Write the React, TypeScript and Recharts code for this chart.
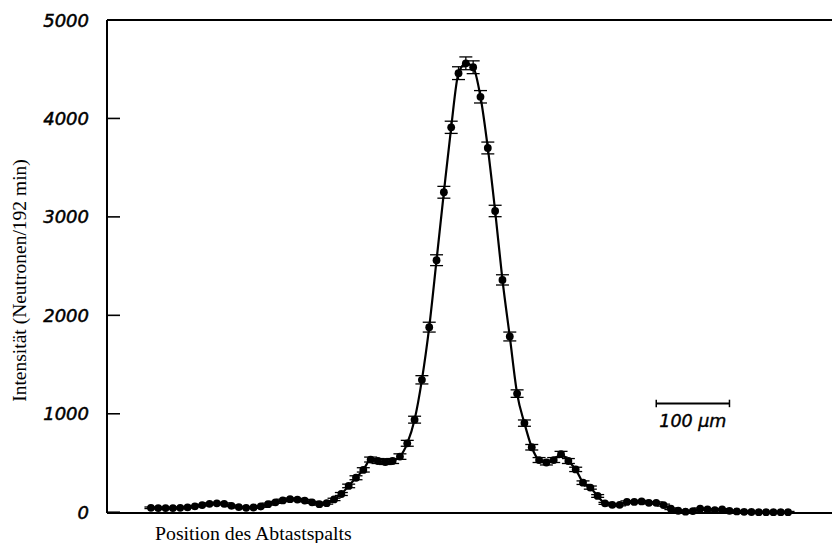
import React from 'react';
import { LineChart, Line, XAxis, YAxis, ReferenceLine, ErrorBar } from 'recharts';

// Scan positions (µm)
const positions = [
  0, 10, 20, 30, 40, 50, 60, 70, 80, 90,
  100, 110, 120, 130, 140, 150, 160, 170, 180, 190,
  200, 210, 220, 230, 240, 250, 260, 270, 280, 290,
  300, 310, 320, 330, 340, 350, 360, 370, 380, 390,
  400, 410, 420, 430, 440, 450, 460, 470, 480, 490,
  500, 510, 520, 530, 540, 550, 560, 570, 580, 590,
  600, 610, 620, 630, 640, 650, 660, 670, 680, 690,
  700, 710, 720, 730, 740, 750, 760, 770, 780, 790,
  800, 810, 820, 830, 840, 850, 860, 870,
];

// Intensity (neutrons / 192 min)
const counts = [
  45, 42, 42, 42, 45, 50, 60, 72, 85, 90,
  85, 65, 52, 45, 48, 58, 82, 100, 120, 132,
  128, 118, 100, 82, 92, 130, 185, 267, 350, 430,
  535, 520, 510, 520, 565, 700, 940, 1345, 1880, 2560,
  3250, 3910, 4460, 4560, 4520, 4220, 3700, 3060, 2360, 1785,
  1205, 905, 660, 530, 505, 530, 590, 520, 435, 300,
  250, 165, 90, 75, 75, 105, 105, 110, 95, 95,
  72, 35, 15, 5, 12, 35, 28, 22, 28, 14,
  8, 4, 2, 0, 0, 0, 0, 0,
];

// Error bar half-lengths
const errors = [
  8, 8, 8, 8, 8, 8, 8, 8, 10, 10,
  10, 8, 8, 8, 8, 8, 10, 10, 12, 12,
  12, 12, 10, 10, 10, 12, 15, 18, 20, 22,
  25, 25, 25, 25, 28, 30, 35, 42, 50, 55,
  60, 62, 65, 65, 65, 63, 60, 58, 52, 45,
  38, 32, 28, 25, 25, 25, 28, 25, 22, 18,
  16, 14, 10, 10, 10, 10, 10, 10, 10, 10,
  10, 8, 8, 8, 8, 8, 8, 8, 8, 8,
  8, 8, 8, 8, 8, 8, 8, 8,
];

const yTicks = [0, 1000, 2000, 3000, 4000, 5000];
const xDomain = [-60, 930];
const yDomain = [0, 5000];
const xLabelText = 'Position des Abtastspalts';
const yLabelText = 'Intensität (Neutronen/192 min)';
const scaleBarStart = 690;
const scaleBarEnd = 790;
const scaleBarLevel = 1105;
const scaleBarCap = 38;
const scaleBarText = '100 µm';

const data = positions.map((pos, i) => ({ pos, n: counts[i], err: errors[i] }));

const YTick = (props: any) => {
  const { x, y, payload } = props;
  return (
    <g>
      <line x1={x + 18} x2={x + 31} y1={y} y2={y} stroke="#000" strokeWidth={1.6} />
      <text
        x={x}
        y={y}
        dy={6.5}
        textAnchor="end"
        fontFamily="DejaVu Sans"
        fontStyle="italic"
        fontSize={18}
        fill="#000"
        stroke="#000"
        strokeWidth={0.5}
      >
        {payload.value}
      </text>
    </g>
  );
};

const YLabel = (props: any) => {
  const vb = props.viewBox || { x: 0, y: 20, width: 107, height: 493 };
  const cx = vb.x + 25.5;
  const cy = vb.y + vb.height / 2 + 14;
  return (
    <text
      x={cx}
      y={cy}
      transform={`rotate(-90 ${cx} ${cy})`}
      textAnchor="middle"
      fontFamily="Liberation Serif"
      fontSize={19.5}
      fill="#000"
    >
      {yLabelText}
    </text>
  );
};

const XLabel = (props: any) => {
  const vb = props.viewBox || { x: 107, y: 513, width: 725, height: 30 };
  return (
    <text
      x={vb.x + 48}
      y={vb.y + 27}
      textAnchor="start"
      fontFamily="Liberation Serif"
      fontSize={19.8}
      fill="#000"
    >
      {xLabelText}
    </text>
  );
};

const ScaleLabel = (props: any) => {
  const vb = props.viewBox || {};
  const x1 = vb.x1 !== undefined ? vb.x1 : vb.x;
  const x2 = vb.x2 !== undefined ? vb.x2 : vb.x + vb.width;
  const y = vb.y1 !== undefined ? vb.y1 : vb.y;
  return (
    <text
      x={(x1 + x2) / 2}
      y={y + 24}
      textAnchor="middle"
      fontFamily="DejaVu Sans"
      fontStyle="italic"
      fontSize={17.5}
      fill="#000"
      stroke="#000"
      strokeWidth={0.4}
    >
      {scaleBarText}
    </text>
  );
};

export default function App() {
  return (
    <div style={{ position: 'absolute', left: 0, top: 0, background: '#fff' }}>
      <LineChart
        width={832}
        height={543}
        data={data}
        margin={{ top: 20, right: 0, bottom: 0, left: 0 }}
      >
        <XAxis
          dataKey="pos"
          type="number"
          domain={xDomain}
          allowDataOverflow
          tick={false}
          tickLine={false}
          axisLine={{ stroke: '#000', strokeWidth: 2 }}
          height={30}
          label={<XLabel />}
        />
        <YAxis
          type="number"
          domain={yDomain}
          ticks={yTicks}
          interval={0}
          width={107}
          tickLine={false}
          tickSize={0}
          tickMargin={18}
          axisLine={{ stroke: '#000', strokeWidth: 2 }}
          tick={(p: any) => <YTick {...p} />}
          label={<YLabel />}
        />
        <ReferenceLine y={5000} stroke="#000" strokeWidth={2} />
        <ReferenceLine
          segment={[
            { x: scaleBarStart, y: scaleBarLevel },
            { x: scaleBarEnd, y: scaleBarLevel },
          ]}
          stroke="#000"
          strokeWidth={2}
          label={<ScaleLabel />}
        />
        <ReferenceLine
          segment={[
            { x: scaleBarStart, y: scaleBarLevel - scaleBarCap },
            { x: scaleBarStart, y: scaleBarLevel + scaleBarCap },
          ]}
          stroke="#000"
          strokeWidth={1.5}
        />
        <ReferenceLine
          segment={[
            { x: scaleBarEnd, y: scaleBarLevel - scaleBarCap },
            { x: scaleBarEnd, y: scaleBarLevel + scaleBarCap },
          ]}
          stroke="#000"
          strokeWidth={1.5}
        />
        <Line
          dataKey="n"
          type="monotone"
          stroke="#000"
          strokeWidth={2.2}
          dot={{ r: 3.9, fill: '#000', stroke: 'none' }}
          isAnimationActive={false}
        >
          <ErrorBar dataKey="err" width={6.5} strokeWidth={1.3} stroke="#000" direction="y" />
        </Line>
      </LineChart>
    </div>
  );
}
